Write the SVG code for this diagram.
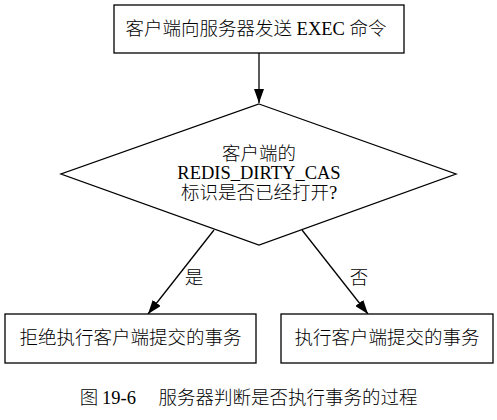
<svg xmlns="http://www.w3.org/2000/svg" width="497" height="420" viewBox="0 0 497 420">
<style>
.box{fill:#fff;stroke:#000;stroke-width:1.3}
.t{font-family:"Liberation Serif","Noto Sans CJK SC",serif;font-size:18.5px;font-weight:300;fill:#000;text-anchor:middle}
.e{stroke:#000;stroke-width:1.3;fill:none}
</style>
<defs>
<marker id="ah" viewBox="0 0 14 10" refX="14" refY="5" markerWidth="14" markerHeight="10" markerUnits="userSpaceOnUse" orient="auto">
<path d="M0,0 L14,5 L0,10 Z" fill="#000"/>
</marker>
</defs>
<rect width="497" height="420" fill="#fff"/>
<g id="connectors">
<line class="e" x1="259" y1="53" x2="259" y2="103" marker-end="url(#ah)"/>
<line class="e" x1="214" y1="230" x2="148" y2="314" marker-end="url(#ah)"/>
<line class="e" x1="302" y1="230" x2="368" y2="314" marker-end="url(#ah)"/>
<text class="t" x="194" y="284">是</text>
<text class="t" x="359" y="284">否</text>
</g>
<g id="send">
<rect class="box" x="114" y="5" width="290" height="48"/>
<text class="t" x="256" y="35">客户端向服务器发送 EXEC 命令</text>
</g>
<g id="check">
<polygon class="box" points="259,104 456,174 259,245 61,174"/>
<text class="t" x="259" y="160">客户端的</text>
<text class="t" x="259" y="179">REDIS_DIRTY_CAS</text>
<text class="t" x="259" y="199">标识是否已经打开?</text>
</g>
<g id="reject">
<rect class="box" x="5" y="314" width="251" height="49"/>
<text class="t" x="130.5" y="344">拒绝执行客户端提交的事务</text>
</g>
<g id="exec">
<rect class="box" x="281" y="314" width="212" height="49"/>
<text class="t" x="387" y="344">执行客户端提交的事务</text>
</g>
<g id="caption">
<text class="t" x="89" y="404">图</text>
<text class="t" x="119" y="404">19-6</text>
<text class="t" x="288" y="404">服务器判断是否执行事务的过程</text>
</g>
</svg>
